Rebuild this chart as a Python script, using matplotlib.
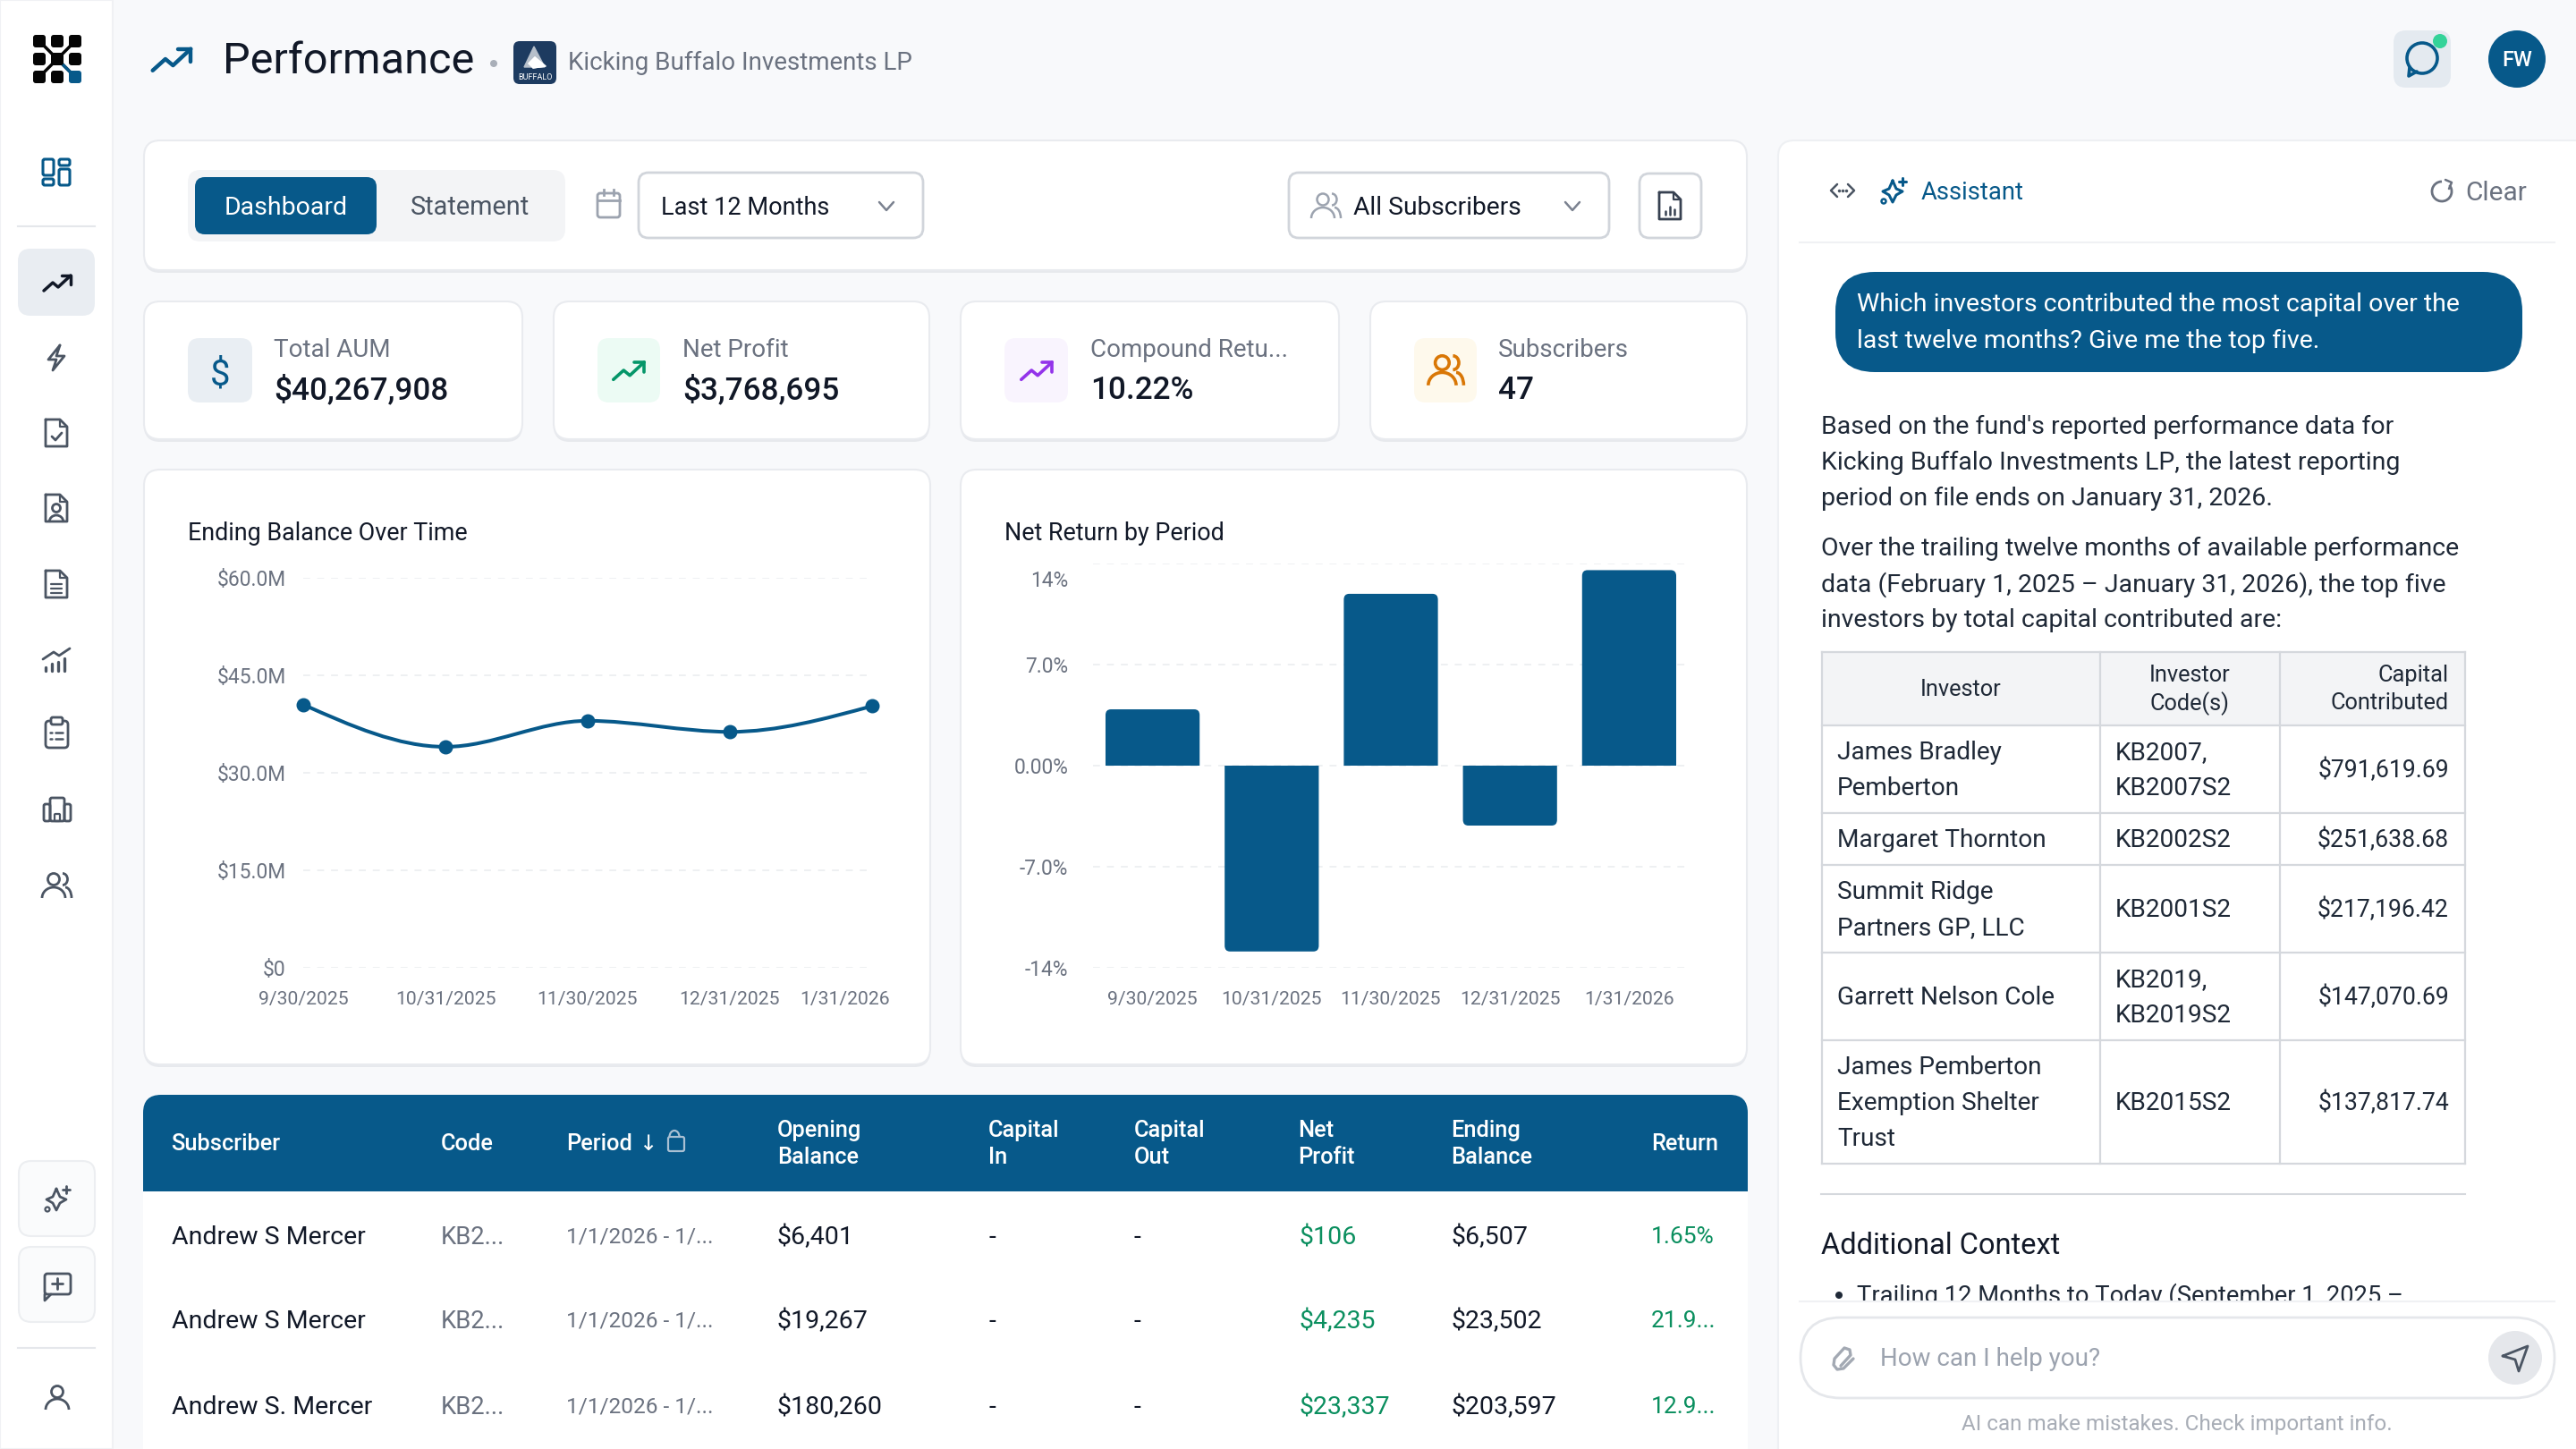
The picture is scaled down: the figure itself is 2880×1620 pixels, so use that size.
#!/usr/bin/env python3
import matplotlib
matplotlib.use('Agg')
import matplotlib.pyplot as plt
import numpy as np
from matplotlib.patches import FancyBboxPatch, Circle, Rectangle, PathPatch, Arc
from matplotlib.path import Path
from matplotlib.transforms import ScaledTranslation

plt.rcParams['font.family'] = ['Roboto', 'DejaVu Sans']

# chart data
periods = ['9/30/2025', '10/31/2025', '11/30/2025', '12/31/2025', '1/31/2026']
ending_balance = [40.5, 34.0, 38.0, 36.3, 40.27]
balance_ticks = [0, 15, 30, 45, 60]
balance_tick_labels = ['$0', '$15.0M', '$30.0M', '$45.0M', '$60.0M']
net_return = [3.9, -12.87, 11.9, -4.15, 13.54]
return_ticks = [-14, -7, 0, 7, 14]
return_tick_labels = ['-14%', '-7.0%', '0.00%', '7.0%', '14%']

# kpi cards
kpi_labels = ['Total AUM', 'Net Profit', 'Compound Retu...', 'Subscribers']
kpi_values = ['$40,267,908', '$3,768,695', '10.22%', '47']

# subscriber table
sub_headers = ['Subscriber', 'Code', 'Period', 'Opening\nBalance', 'Capital\nIn', 'Capital\nOut',
               'Net\nProfit', 'Ending\nBalance', 'Return']
sub_names = ['Andrew S Mercer', 'Andrew S Mercer', 'Andrew S. Mercer']
sub_codes = ['KB2...', 'KB2...', 'KB2...']
sub_periods = ['1/1/2026 - 1/...', '1/1/2026 - 1/...', '1/1/2026 - 1/...']
sub_opening = ['$6,401', '$19,267', '$180,260']
sub_profit = ['$106', '$4,235', '$23,337']
sub_ending = ['$6,507', '$23,502', '$203,597']
sub_return = ['1.65%', '21.9...', '12.9...']

# assistant table
inv_names = ['James Bradley\nPemberton', 'Margaret Thornton', 'Summit Ridge\nPartners GP, LLC',
             'Garrett Nelson Cole', 'James Pemberton\nExemption Shelter\nTrust']
inv_codes = ['KB2007,\nKB2007S2', 'KB2002S2', 'KB2001S2', 'KB2019,\nKB2019S2', 'KB2015S2']
inv_capital = ['$791,619.69', '$251,638.68', '$217,196.42', '$147,070.69', '$137,817.74']

BLUE = '#07598a'
DARK = '#111827'
GREY = '#6b7280'
SLATE = '#4b5563'
BORDER = '#e9ebef'
W, H = 2880, 1620

fig = plt.figure(figsize=(28.8, 16.2), dpi=100, facecolor='#f8f9fb')
ui = fig.add_axes([0, 0, 1, 1])
ui.set_xlim(0, W)
ui.set_ylim(H, 0)
ui.axis('off')


def box(x0, y0, x1, y1, r=16, fc='white', ec='none', lw=1.5, z=1):
    p = FancyBboxPatch((x0, y0), x1 - x0, y1 - y0, boxstyle='round,pad=0,rounding_size=%g' % r,
                       fc=fc, ec=ec, lw=lw, zorder=z)
    ui.add_patch(p)
    return p


def card(x0, y0, x1, y1):
    box(x0, y0 + 3, x1, y1 + 3, r=18, fc='#e7e9ed')
    box(x0, y0, x1, y1, r=18, ec=BORDER, lw=1.5)


def txt(x, y, s, size=20.5, color=DARK, ha='left', weight='normal', z=5, **kw):
    return ui.text(x, y - 1.5, s, fontsize=size, color=color, ha=ha, va='center_baseline', weight=weight, zorder=z, **kw)


def poly(cx, cy, pts, color=SLATE, lw=2, s=1, close=False, fill=None, z=6):
    pts = np.array(pts, dtype=float) * s + [cx, cy]
    if close:
        pts = np.vstack([pts, pts[:1]])
    if fill:
        ui.fill(pts[:, 0], pts[:, 1], color=fill, zorder=z)
    ui.plot(pts[:, 0], pts[:, 1], color=color, lw=lw, solid_capstyle='round', solid_joinstyle='round', zorder=z)


def ring(cx, cy, r, color=SLATE, lw=2, fc='none', z=6):
    ui.add_patch(Circle((cx, cy), r, fc=fc, ec=color, lw=lw, zorder=z))


def arc(cx, cy, w, h, t0, t1, color=SLATE, lw=2):
    ui.add_patch(Arc((cx, cy), w, h, theta1=t0, theta2=t1, color=color, lw=lw, zorder=6))


def trend(cx, cy, s=1, color=SLATE, lw=2.5):
    poly(cx, cy, [(-15, 9), (-5, 0), (1, 5), (15, -8)], color, lw, s)
    poly(cx, cy, [(5, -8), (15, -8), (15, 2)], color, lw, s)


def doc(cx, cy, color=SLATE, lw=2):
    poly(cx, cy, [(-12, -15), (4, -15), (12, -7), (12, 15), (-12, 15)], color, lw, close=True)
    poly(cx, cy, [(4, -15), (4, -7), (12, -7)], color, lw * 0.8)


def users(cx, cy, color=SLATE, lw=2, s=1):
    ring(cx - 3 * s, cy - 7 * s, 6.5 * s, color, lw)
    arc(cx - 3 * s, cy + 14 * s, 26 * s, 24 * s, 180, 360, color, lw)
    arc(cx + 7 * s, cy - 7 * s, 11 * s, 13 * s, 270, 90, color, lw)
    arc(cx + 10 * s, cy + 14 * s, 14 * s, 24 * s, 270, 360, color, lw)


def sparkle(cx, cy, color=SLATE, lw=2):
    poly(cx, cy, [(-1, -11), (3, -2), (10, 1), (3, 5), (-1, 13), (-5, 5), (-12, 1), (-5, -2)], color, lw, close=True)
    poly(cx, cy, [(10, -14), (10, -6)], color, lw)
    poly(cx, cy, [(6, -10), (14, -10)], color, lw)
    ring(cx - 11, cy + 12, 2.5, color, lw * 0.8)


def chevron(cx, cy, color='#7b8290'):
    poly(cx, cy, [(-8, -4), (0, 5), (8, -4)], color, 1.8)


# sidebar
ui.add_patch(Rectangle((0, 0), 126, H, fc='white', ec='#f0f1f4', lw=1.5, zorder=1))
for lx in [37, 57, 77]:
    for ly in [39, 59, 79]:
        box(lx, ly, lx + 14, ly + 14, r=3, fc=BLUE if (lx, ly) == (77, 79) else '#050505', z=3)
poly(64, 66, [(-20, -20), (20, 20)], '#050505', 2.5, z=2)
poly(64, 66, [(20, -20), (-20, 20)], '#050505', 2.5, z=2)
poly(64, 66, [(3, 3), (20, 20)], BLUE, 2.5, z=2)

for rx0, ry0, rx1, ry1 in [(48, 178, 60, 196), (48, 200, 60, 207), (66, 178, 78, 185), (66, 189, 78, 207)]:
    box(rx0, ry0, rx1, ry1, r=2, ec=BLUE, lw=2.2, fc='none', z=6)
ui.plot([20, 106], [253, 253], color='#e5e7eb', lw=1.5, zorder=2)
box(20, 278, 106, 353, r=14, fc='#e9edf2', z=2)
trend(64, 316, 1, DARK)
poly(63, 400, [(4, -14), (-9, 2), (0, 2), (-4, 14), (9, -2), (0, -2)], SLATE, 2, close=True)
doc(63, 484)
poly(63, 484, [(-5, 4), (-1, 8), (6, 0)], SLATE, 2)
doc(63, 568)
ring(63, 568, 4.5)
arc(63, 584, 16, 16, 180, 360)
doc(63, 653)
for dy in [0, 5, 10]:
    poly(63, 653, [(-6, dy), (6, dy)], SLATE, 1.6)
poly(63, 737, [(-15, 0), (-3, -8), (3, -4), (15, -12)], SLATE, 2)
for bx, bh in zip([-12, -5, 2, 9], [4, 8, 10, 14]):
    poly(63, 737, [(bx, 13 - bh), (bx, 13)], SLATE, 2.4)
box(51, 806, 76, 836, r=4, ec=SLATE, lw=2, fc='none', z=6)
box(57, 802, 70, 810, r=2, ec=SLATE, lw=2, fc='white', z=7)
for dy in [-2, 5]:
    poly(63, 821, [(-7, dy), (-5, dy)], SLATE, 1.8)
    poly(63, 821, [(-1, dy), (7, dy)], SLATE, 1.8)
box(56, 892, 72, 918, r=2, ec=SLATE, lw=2, fc='none', z=6)
box(49, 899, 56, 918, r=2, ec=SLATE, lw=2, fc='none', z=6)
box(72, 899, 79, 918, r=2, ec=SLATE, lw=2, fc='none', z=6)
box(61, 910, 67, 918, r=1, ec=SLATE, lw=1.6, fc='none', z=6)
users(63, 990, SLATE, 2)

box(21, 1298, 106, 1382, r=14, fc='#fafbfc', ec='#eceef1')
sparkle(64, 1340)
box(21, 1394, 106, 1478, r=14, fc='#fafbfc', ec='#eceef1')
box(50, 1424, 79, 1447, r=3, ec=SLATE, lw=2, fc='none', z=6)
poly(64, 1435, [(-6, 0), (6, 0)], SLATE, 2)
poly(64, 1435, [(0, -6), (0, 6)], SLATE, 2)
poly(64, 1435, [(-14, 12), (-14, 19), (-7, 12)], SLATE, 2)
ui.plot([20, 106], [1507, 1507], color='#e5e7eb', lw=1.5, zorder=2)
ring(64, 1556, 6.5)
arc(64, 1576, 26, 24, 180, 360)

# top bar
trend(192, 66, 1.42, BLUE, 3.2)
txt(249, 66, 'Performance', size=35, color=DARK)
ui.add_patch(Circle((552, 71), 4, fc='#a9afb8', ec='none', zorder=5))
box(574, 46, 622, 94, r=7, fc='#1d3b60', z=3)
poly(598, 66, [(-12, 9), (-1, -14), (11, 9)], 'none', 0, fill='#b6bfca', z=4)
poly(598, 66, [(-7, 5), (0, -2), (12, 8), (-2, 10)], 'white', 1, fill='white', z=4)
txt(598, 87, 'BUFFALO', size=6.5, color='white', ha='center')
txt(635, 69, 'Kicking Buffalo Investments LP', size=20, color=GREY)
box(2676, 34, 2740, 98, r=14, fc='#e4eaf0', z=2)
ring(2708, 65, 17, BLUE, 2.6)
poly(2708, 65, [(-14, 10), (-15, 20), (-6, 15)], BLUE, 2.6)
ui.add_patch(Circle((2728, 46), 8, fc='#34d399', ec='none', zorder=7))
ui.add_patch(Circle((2814, 66), 32, fc=BLUE, ec='none', zorder=3))
txt(2814, 67, 'FW', size=17, color='white', ha='center', weight='medium')

# filter bar
card(161, 157, 1953, 302)
box(210, 190, 632, 270, r=14, fc='#f3f4f6', z=2)
box(218, 198, 421, 262, r=11, fc=BLUE, z=3)
txt(320, 231, 'Dashboard', color='white', ha='center')
txt(526, 231, 'Statement', size=20.8, color=SLATE, ha='center')
box(668, 216, 693, 243, r=3, ec='#9ca3af', lw=2, fc='none', z=4)
ui.plot([668, 693], [224, 224], color='#9ca3af', lw=2, zorder=4)
ui.plot([675, 675], [212, 218], color='#9ca3af', lw=2, zorder=4)
ui.plot([686, 686], [212, 218], color='#9ca3af', lw=2, zorder=4)
box(714, 193, 1032, 266, r=11, ec='#d1d5db', lw=2)
txt(739, 231, 'Last 12 Months', size=19.5)
chevron(991, 230)
box(1441, 193, 1799, 266, r=11, ec='#d1d5db', lw=2)
users(1482, 230, '#9ca3af', 1.8, 1)
txt(1513, 231, 'All Subscribers', size=20.3)
chevron(1758, 230)
box(1833, 194, 1902, 266, r=11, ec='#d1d5db', lw=2)
doc(1867, 230, '#374151', 2)
for bx, bh in zip([-5, 0, 5], [4, 9, 6]):
    poly(1867, 230, [(bx, 10 - bh), (bx, 10)], '#374151', 1.8)

# kpi cards
kpi_x = [(161, 584), (619, 1039), (1074, 1497), (1532, 1953)]
kpi_icon_x = [(210, 282), (668, 738), (1123, 1194), (1581, 1651)]
kpi_text_x = [306, 763, 1219, 1675]
kpi_icon_bg = ['#e9eef3', '#ecfbf4', '#f9f4fe', '#fef9ec']
for i in range(4):
    card(kpi_x[i][0], 337, kpi_x[i][1], 491)
    box(kpi_icon_x[i][0], 378, kpi_icon_x[i][1], 450, r=13, fc=kpi_icon_bg[i], z=2)
    txt(kpi_text_x[i], 390, kpi_labels[i], size=20, color=GREY)
    txt(kpi_text_x[i], 434, kpi_values[i], size=25.3, color=DARK, weight='medium')
txt(246, 416, '$', size=29, color=BLUE, ha='center')
trend(703, 414, 1.15, '#059669', 2.6)
trend(1159, 414, 1.15, '#9333ea', 2.6)
users(1616, 414, '#d97706', 2.6, 1.2)

# line chart
card(161, 525, 1040, 1190)
txt(210, 595, 'Ending Balance Over Time', size=19.4, color='#111827')


def axes_px(x0, y0, x1, y1):
    a = fig.add_axes([x0 / W, 1 - y1 / H, (x1 - x0) / W, (y1 - y0) / H], zorder=3)
    a.patch.set_alpha(0)
    for s in a.spines.values():
        s.set_visible(False)
    a.tick_params(length=0, labelcolor=GREY)
    return a


def px_shift(label, dx=0, dy=0):
    # move a tick label by some pixels (the chart library nudged these in the original)
    label.set_transform(label.get_transform() + ScaledTranslation(dx / 100, dy / 100, fig.dpi_scale_trans))


def smooth_path(xs, ys):
    # monotone cubic between the points, flat at local extremes
    xs = np.array(xs, dtype=float)
    ys = np.array(ys, dtype=float)
    sec = np.diff(ys) / np.diff(xs)
    m = np.zeros(len(xs))
    for i in range(1, len(xs) - 1):
        if sec[i - 1] * sec[i] > 0:
            m[i] = 2 * sec[i - 1] * sec[i] / (sec[i - 1] + sec[i])
    m[0] = (3 * sec[0] - m[1]) / 2
    m[-1] = (3 * sec[-1] - m[-2]) / 2
    verts = [(xs[0], ys[0])]
    codes = [Path.MOVETO]
    for i in range(len(xs) - 1):
        d = (xs[i + 1] - xs[i]) / 3
        verts += [(xs[i] + d, ys[i] + m[i] * d), (xs[i + 1] - d, ys[i + 1] - m[i + 1] * d), (xs[i + 1], ys[i + 1])]
        codes += [Path.CURVE4] * 3
    return Path(verts, codes)


ax1 = axes_px(339, 646, 975, 1082)
xpos = np.arange(len(periods))
ax1.set_xlim(0, len(periods) - 1)
ax1.set_ylim(0, 60)
ax1.set_yticks(balance_ticks, balance_tick_labels, fontsize=16.4)
ax1.set_xticks(xpos, periods, fontsize=15.2)
ax1.tick_params(axis='y', pad=14)
ax1.tick_params(axis='x', pad=19)
ax1.grid(axis='y', color='#eef0f2', lw=1.4, ls=(0, (4, 4)))
ax1.set_axisbelow(True)
ax1.add_patch(PathPatch(smooth_path(xpos, ending_balance), fc='none', ec=BLUE, lw=2.9, clip_on=False))
ax1.plot(xpos, ending_balance, 'o', color=BLUE, ms=10.5, clip_on=False, zorder=4)
px_shift(ax1.get_xticklabels()[-1], dx=-30)

# bar chart
card(1074, 525, 1953, 1190)
txt(1123, 595, 'Net Return by Period', size=19.4, color='#111827')
ax2 = axes_px(1222, 630, 1888, 1082)
ax2.set_xlim(-0.5, len(periods) - 0.5)
ax2.set_ylim(-14, 14)
ax2.set_yticks(return_ticks, return_tick_labels, fontsize=16.4)
ax2.set_xticks(xpos, periods, fontsize=15.2)
ax2.tick_params(axis='y', pad=20)
ax2.tick_params(axis='x', pad=19)
ax2.grid(axis='y', color='#eef0f2', lw=1.4, ls=(0, (4, 4)))
ax2.set_axisbelow(True)
px_shift(ax2.get_yticklabels()[-1], dy=-17)
bar_w = 0.79
rx = 0.045
ry = 0.4
for x, v in zip(xpos, net_return):
    sgn = 1 if v > 0 else -1
    l, r = x - bar_w / 2, x + bar_w / 2
    verts = [(l, 0), (l, v - sgn * ry), (l, v), (l + rx, v), (r - rx, v), (r, v), (r, v - sgn * ry), (r, 0), (l, 0)]
    codes = [Path.MOVETO, Path.LINETO, Path.CURVE3, Path.CURVE3, Path.LINETO, Path.CURVE3, Path.CURVE3, Path.LINETO,
             Path.CLOSEPOLY]
    ax2.add_patch(PathPatch(Path(verts, codes), fc=BLUE, ec='none', zorder=3))

# subscriber table
ui.add_patch(Rectangle((160, 1300), 1794, 320, fc='white', ec='none', zorder=1))
box(160, 1224, 1954, 1360, r=20, fc=BLUE, z=2)
ui.add_patch(Rectangle((160, 1332), 1794, 40, fc='white', ec='none', zorder=2))
col_x = [191, 493, 633, 869, 1105, 1268, 1451, 1622, 1846]
for cx, head in zip(col_x, sub_headers):
    lines = head.split('\n')
    if len(lines) == 1:
        txt(cx, 1278, lines[0], size=18.3, color='white', weight='medium')
    else:
        txt(cx, 1263, lines[0], size=18.3, color='white', weight='medium')
        txt(cx, 1293, lines[1], size=18.3, color='white', weight='medium')
txt(714, 1278, '↓', size=17.5, color='white')
box(747, 1271, 765, 1287, r=2, ec='#a9c0d3', lw=1.6, fc='none', z=6)
arc(754, 1271, 11, 14, 180, 360, '#a9c0d3', 1.6)
green = '#0b8f5f'
for i, ry_ in enumerate([1382, 1476, 1572]):
    txt(192, ry_, sub_names[i])
    txt(493, ry_, sub_codes[i], size=19.7, color=GREY)
    txt(633, ry_, sub_periods[i], size=17.6, color=GREY)
    txt(869, ry_, sub_opening[i])
    txt(1105, ry_, '-')
    txt(1267, ry_, '-')
    txt(1452, ry_, sub_profit[i], color=green)
    txt(1622, ry_, sub_ending[i])
    txt(1846, ry_, sub_return[i], size=19, color=green)

# assistant panel
box(1988, 157, 2900, 1700, r=18, ec='#eef0f3', lw=1.5)
poly(2060, 213, [(-6, -7), (-13, 0), (-6, 7)], SLATE, 1.8)
poly(2060, 213, [(6, -7), (13, 0), (6, 7)], SLATE, 1.8)
for dx in [-4, 0, 4]:
    ui.plot([2060 + dx], [213], '.', color=SLATE, ms=3, zorder=6)
sparkle(2117, 213, BLUE, 2.2)
txt(2148, 214, 'Assistant', size=19.7, color=BLUE)
arc(2730, 214, 22, 22, 320, 270, GREY, 2)
poly(2730, 214, [(4, -13), (11, -10), (8, -3)], GREY, 1.8)
txt(2756, 214, 'Clear', size=21.5, color=GREY)
ui.plot([2012, 2856], [271, 271], color='#f0f1f4', lw=1.5, zorder=2)

box(2052, 304, 2820, 416, r=44, fc=BLUE, z=2)
txt(2076, 339, 'Which investors contributed the most capital over the', color='white')
txt(2076, 380, 'last twelve months? Give me the top five.', color='white')

para_lines = ["Based on the fund's reported performance data for",
              'Kicking Buffalo Investments LP, the latest reporting',
              'period on file ends on January 31, 2026.',
              'Over the trailing twelve months of available performance',
              'data (February 1, 2025 – January 31, 2026), the top five',
              'investors by total capital contributed are:']
for py, line in zip([476, 516, 556, 612, 652, 692], para_lines):
    txt(2036, py, line, color='#1f2937')

# investors table
row_y = [729, 811, 909, 967, 1065, 1163, 1301]
col_edges = [2037, 2348, 2549, 2756]
ui.add_patch(Rectangle((2037, 729), 719, 82, fc='#f3f4f6', ec='none', zorder=2))
for y in row_y:
    ui.plot([2037, 2756], [y, y], color='#d5d8dd', lw=1.6, zorder=3)
for x in col_edges:
    ui.plot([x, x], [729, 1301], color='#d5d8dd', lw=1.6, zorder=3)
txt(2192, 770, 'Investor', size=18.3, color='#1f2937', ha='center')
txt(2448, 754, 'Investor', size=18.3, color='#1f2937', ha='center')
txt(2448, 785, 'Code(s)', size=18.3, color='#1f2937', ha='center')
txt(2738, 754, 'Capital', size=18.3, color='#1f2937', ha='right')
txt(2738, 785, 'Contributed', size=18.3, color='#1f2937', ha='right')
for i in range(5):
    mid = (row_y[i + 1] + row_y[i + 2]) / 2
    for col_xx, cell in [(2054, inv_names[i]), (2365, inv_codes[i])]:
        lines = cell.split('\n')
        for k, line in enumerate(lines):
            txt(col_xx, mid + (k - (len(lines) - 1) / 2) * 40, line, size=20.2, color='#1f2937')
    txt(2738, mid, inv_capital[i], size=19.2, color='#1f2937', ha='right')

ui.plot([2036, 2756], [1335, 1335], color='#d5d8dd', lw=1.5, zorder=3)
txt(2036, 1391, 'Additional Context', size=23.5, color=DARK)
clip = Rectangle((2030, 1420), 800, 35, transform=ui.transData)
bt = txt(2076, 1447, 'Trailing 12 Months to Today (September 1, 2025 –', size=19.7, color='#1f2937')
bt.set_clip_path(clip)
bt.set_clip_on(True)
ui.add_patch(Circle((2056, 1448), 4, fc='#1f2937', ec='none', zorder=5))
ui.plot([2012, 2856], [1455, 1455], color='#f0f1f4', lw=1.5, zorder=6)

box(2013, 1473, 2856, 1563, r=45, ec='#e5e7eb', lw=2)
txt(2102, 1518, 'How can I help you?', size=20, color='#9ca3af')
poly(2061, 1518, [(-3, 9), (8, -3), (7, -9), (1, -11), (-10, 1), (-11, 8), (-7, 13), (0, 12), (11, 1)], '#a3a9b3', 2.4)
ui.add_patch(Circle((2812, 1518), 30, fc='#e5e7eb', ec='none', zorder=3))
poly(2812, 1518, [(-14, -2), (14, -13), (4, 15), (0, 2)], SLATE, 2, close=True)
txt(2434, 1592, 'AI can make mistakes. Check important info.', size=17.5, color='#a8adb6', ha='center')

fig.savefig('out.png', dpi=100, facecolor=fig.get_facecolor())
